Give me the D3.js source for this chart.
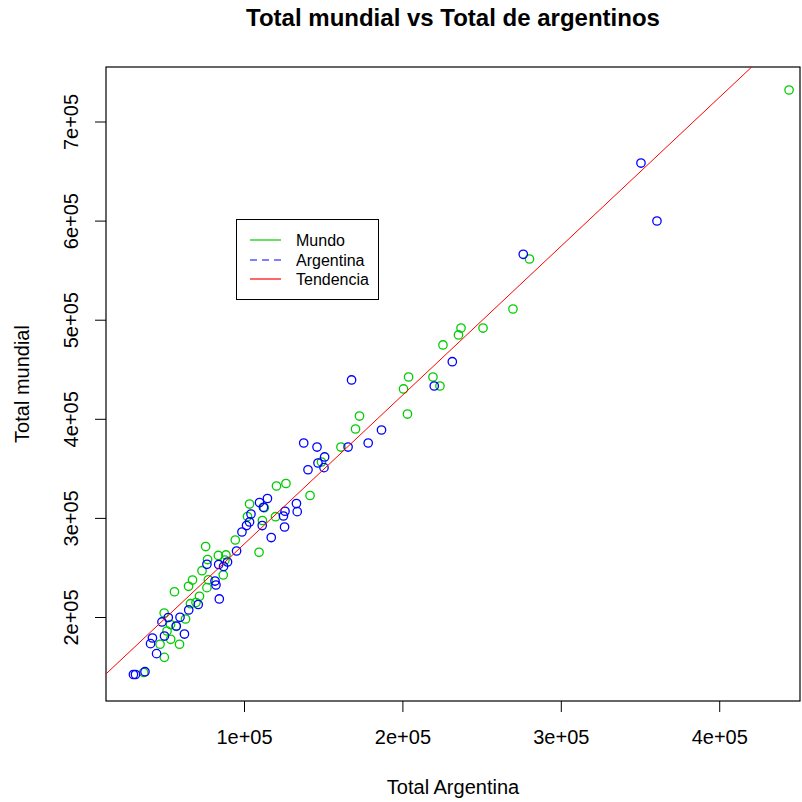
<!DOCTYPE html>
<html>
<head>
<meta charset="utf-8">
<script src="https://cdn.jsdelivr.net/npm/d3@7"></script>
<style>
  html, body { margin: 0; padding: 0; background: #fff; }
  svg { display: block; font-family: "Liberation Sans", Arial, sans-serif; }
</style>
</head>
<body>
<svg id="chart" width="802" height="802"></svg>
<script>
// Mundo: total Argentina (x) vs total mundial (y)
const mundoX = [444100, 280200, 269800, 237000, 250900, 235400, 225600, 219300, 203900, 200700,
  223700, 203200, 172900, 170400, 161200, 148900, 126500, 120500, 141700, 103500,
  112800, 102200, 111600, 119900, 94500, 109500, 75800, 77000, 83800, 88600,
  73500, 86900, 77500, 67500, 65000, 76600, 56100, 71900, 69700, 66200,
  49600, 63100, 53600, 57300, 51400, 53700, 47000, 59300, 49700, 36700, 88000];
const mundoY = [731800, 561250, 510800, 491600, 491600, 484600, 474500, 442200, 442200, 430100,
  433100, 404800, 402800, 389700, 371500, 356400, 334700, 332200, 322600, 314000,
  310300, 301400, 297400, 301200, 277700, 265300, 271100, 258000, 262100, 262600,
  246700, 242400, 237600, 237300, 231000, 229600, 225500, 220900, 214600, 213400,
  204000, 198000, 192400, 190600, 185900, 177500, 172500, 172500, 159300, 144000, 257500];

// Argentina: total Argentina (x) vs total mundial (y)
const argentinaX = [350600, 360700, 276300, 231500, 220100, 186800, 167900, 137700, 146100, 165700,
  178400, 150900, 146700, 150500, 140400, 133100, 133600, 125900, 124900, 125600,
  117200, 114800, 109800, 112300, 104400, 103500, 101600, 111500, 98700, 95300,
  76600, 84000, 89600, 87100, 81700, 82300, 84400, 71100, 65100, 52200,
  48200, 59600, 57200, 62400, 49800, 42200, 41000, 44800, 30200, 31500, 37500];
const argentinaY = [658100, 599600, 566000, 457600, 433100, 388700, 439200, 375600, 371500, 371500,
  375600, 361500, 355400, 350700, 348600, 314500, 306300, 306700, 301900, 290800,
  280200, 319600, 315500, 310700, 303900, 295900, 292300, 292300, 285800, 266600,
  253200, 253000, 255500, 251000, 236300, 232300, 218200, 212600, 207100, 199500,
  195000, 199700, 190900, 182800, 180800, 178800, 173100, 163000, 142000, 142000, 144800];

// Trend line (linear fit): total mundial = intercept + slope * total Argentina
const trendIntercept = 123200;
const trendSlope = 1.5025;

const xTicks = [100000, 200000, 300000, 400000];
const yTicks = [200000, 300000, 400000, 500000, 600000, 700000];

const legendLabels = ["Mundo", "Argentina", "Tendencia"];
const legendColors = ["#00cd00", "#0000ff", "#ff0000"];
const legendDashes = [null, "7,5", null];

const svg = d3.select("#chart");
const L = 106, R = 800, T = 67, B = 701;

const x = d3.scaleLinear().domain([12880, 451000]).range([L, R]);
const y = d3.scaleLinear().domain([115240, 755000]).range([B, T]);

const sci = d => (d / 100000) + "e+05";

// clip region for the plot area
svg.append("defs").append("clipPath").attr("id", "plotclip")
  .append("rect").attr("x", L).attr("y", T).attr("width", R - L).attr("height", B - T);

// Title
svg.append("text")
  .attr("x", (L + R) / 2).attr("y", 26)
  .attr("text-anchor", "middle")
  .attr("font-size", 24).attr("font-weight", "bold")
  .text("Total mundial vs Total de argentinos");

// X axis
const xAxis = svg.append("g")
  .attr("transform", `translate(0,${B})`)
  .call(d3.axisBottom(x).tickValues(xTicks).tickFormat(sci).tickSize(11).tickPadding(18));
xAxis.select(".domain").remove();
xAxis.selectAll("line").attr("stroke", "#000");
xAxis.selectAll("text").attr("font-size", 20).attr("fill", "#000")
  .attr("font-family", "Liberation Sans, Arial, sans-serif");

// Y axis with vertical labels
const yAxis = svg.append("g")
  .attr("transform", `translate(${L},0)`)
  .call(d3.axisLeft(y).tickValues(yTicks).tickFormat(sci).tickSize(11));
yAxis.select(".domain").remove();
yAxis.selectAll("line").attr("stroke", "#000");
yAxis.selectAll("text")
  .attr("x", null).attr("dy", null)
  .attr("transform", "translate(-28,0) rotate(-90)")
  .attr("text-anchor", "middle")
  .attr("font-size", 20).attr("fill", "#000")
  .attr("font-family", "Liberation Sans, Arial, sans-serif");

// Axis titles
svg.append("text")
  .attr("x", (L + R) / 2).attr("y", 794)
  .attr("text-anchor", "middle").attr("font-size", 20)
  .text("Total Argentina");
svg.append("text")
  .attr("transform", `translate(29,${(T + B) / 2}) rotate(-90)`)
  .attr("text-anchor", "middle").attr("font-size", 20)
  .text("Total mundial");

// Plot box
svg.append("rect")
  .attr("x", L).attr("y", T).attr("width", R - L).attr("height", B - T)
  .attr("fill", "none").attr("stroke", "#000").attr("stroke-width", 1.2);

const plot = svg.append("g").attr("clip-path", "url(#plotclip)");

// Points
const mundo = mundoX.map((v, i) => [v, mundoY[i]]);
const argentina = argentinaX.map((v, i) => [v, argentinaY[i]]);

plot.selectAll("circle.mundo").data(mundo).join("circle")
  .attr("class", "mundo")
  .attr("cx", d => x(d[0])).attr("cy", d => y(d[1])).attr("r", 4.2)
  .attr("fill", "none").attr("stroke", legendColors[0]).attr("stroke-width", 1.3);

plot.selectAll("circle.arg").data(argentina).join("circle")
  .attr("class", "arg")
  .attr("cx", d => x(d[0])).attr("cy", d => y(d[1])).attr("r", 4.2)
  .attr("fill", "none").attr("stroke", legendColors[1]).attr("stroke-width", 1.3);

// Trend line across the whole plot region
const xd = x.domain();
plot.append("line")
  .attr("x1", x(xd[0])).attr("y1", y(trendIntercept + trendSlope * xd[0]))
  .attr("x2", x(xd[1])).attr("y2", y(trendIntercept + trendSlope * xd[1]))
  .attr("stroke", legendColors[2]).attr("stroke-width", 1);

// Legend
const lg = svg.append("g");
lg.append("rect")
  .attr("x", 236.5).attr("y", 219.5).attr("width", 142).attr("height", 80)
  .attr("fill", "#fff").attr("stroke", "#000").attr("stroke-width", 1);
const legendRows = [240, 260, 279];
legendLabels.forEach((lab, i) => {
  const yy = legendRows[i];
  lg.append("line")
    .attr("x1", 250).attr("x2", 281).attr("y1", yy).attr("y2", yy)
    .attr("stroke", legendColors[i]).attr("stroke-width", 1.2)
    .attr("stroke-dasharray", legendDashes[i]);
  lg.append("text")
    .attr("x", 296).attr("y", yy + 6)
    .attr("font-size", 16).text(lab);
});
</script>
</body>
</html>
